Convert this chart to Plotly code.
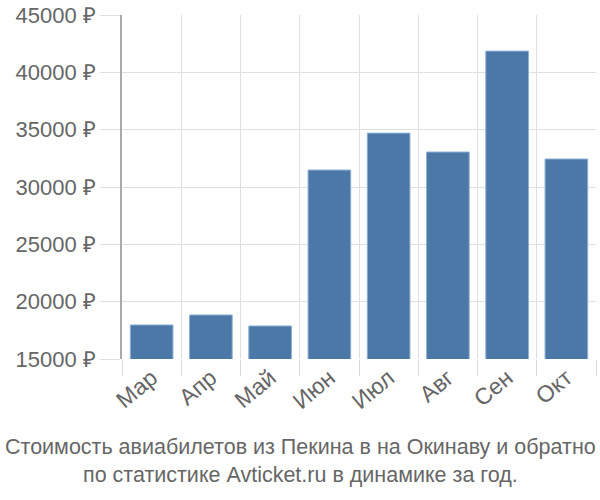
import plotly.graph_objects as go

months = ["Мар", "Апр", "Май", "Июн", "Июл", "Авг", "Сен", "Окт"]
prices = [17970, 18840, 17880, 31480, 34700, 33050, 41850, 32440]
y_ticks = [15000, 20000, 25000, 30000, 35000, 40000, 45000]
y_labels = [f"{v} ₽" for v in y_ticks]
title_lines = ["Стоимость авиабилетов из Пекина в на Окинаву и обратно",
               "по статистике Avticket.ru в динамике за год."]

fig = go.Figure(go.Bar(
    x=months, y=prices,
    marker=dict(color="#4c78a8", line=dict(color="#8fb0d6", width=1)),
))

fig.update_layout(
    width=600, height=500,
    margin=dict(l=122, r=4, t=15, b=141),
    plot_bgcolor="white", paper_bgcolor="white",
    bargap=0.28,
    showlegend=False,
    font=dict(family="Liberation Sans, Arial, sans-serif", color="#666666", size=22),
    annotations=[dict(
        text="<br>".join(title_lines), xref="paper", yref="paper",
        x=(300 - 122) / 474, y=-0.216, xanchor="center", yanchor="top", showarrow=False,
        font=dict(size=21.5, color="#666666"),
        align="center",
    )],
)
fig.update_xaxes(
    type="category", tickson="boundaries", showgrid=True, gridcolor="#e0e0e0", gridwidth=1,
    ticks="outside", ticklen=16, tickcolor="#d8d8d8", tickangle=-40,
    showline=False, automargin=False, tickfont=dict(size=23, color="#666666"),
)
fig.update_yaxes(
    range=[15000, 45000], tickvals=y_ticks, ticktext=y_labels,
    showgrid=True, gridcolor="#e0e0e0", gridwidth=1,
    ticks="outside", ticklen=20, tickcolor="#e0e0e0",
    showline=True, linecolor="#aaaaaa", linewidth=1.5, zeroline=False,
    automargin=False, tickfont=dict(size=22, color="#666666"),
)

fig.write_html("out.html", config={"displayModeBar": False},
               post_script="document.body.style.margin='0';")
